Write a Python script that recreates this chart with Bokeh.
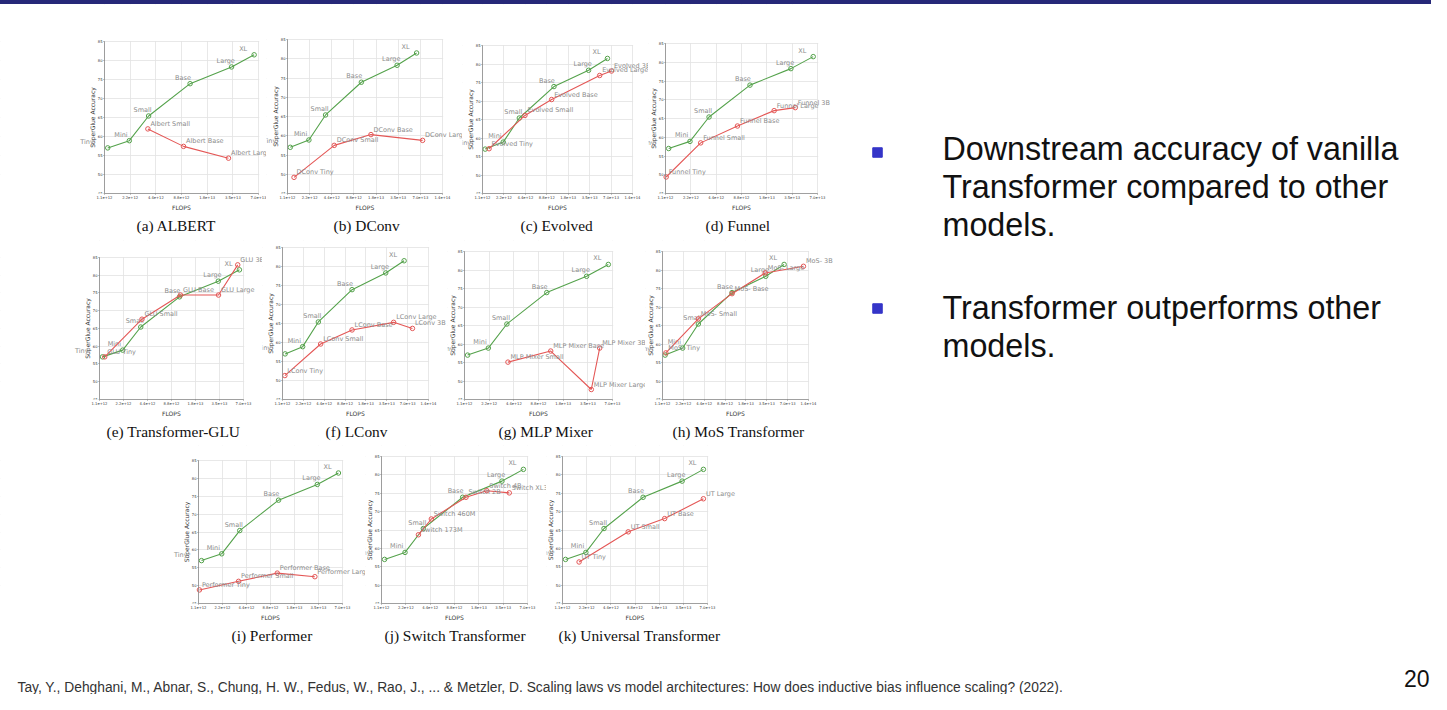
import math
from bokeh.plotting import figure
from bokeh.layouts import column, row
from bokeh.models import Range1d, FixedTicker, PrintfTickFormatter, Title, BoxAnnotation, Div
from bokeh.embed import file_html
from bokeh.resources import INLINE
from bokeh.core.properties import value

# ---------------- data ----------------
flops_ticks = [1.1e12, 2.2e12, 4.4e12, 8.8e12, 1.76e13, 3.52e13, 7.04e13, 1.408e14]
acc_ticks = [45, 50, 55, 60, 65, 70, 75, 80, 85]
x_title = "FLOPS"
y_title = "SuperGlue Accuracy"

vanilla_names = ["Tiny", "Mini", "Small", "Base", "Large", "XL"]
vanilla_flops = [1.2e12, 2.15e12, 3.62e12, 1.11e13, 3.40e13, 6.26e13]
vanilla_acc = [57.0, 58.9, 65.4, 73.9, 78.3, 81.5]

albert_names = ["Albert Small", "Albert Base", "Albert Large"]
albert_flops = [3.55e12, 9.3e12, 3.13e13]
albert_acc = [62.0, 57.4, 54.3]

dconv_names = ["DConv Tiny", "DConv Small", "DConv Base", "DConv Large"]
dconv_flops = [1.35e12, 4.75e12, 1.50e13, 7.55e13]
dconv_acc = [49.2, 57.5, 60.3, 58.8]

evolved_names = ["Evolved Tiny", "Evolved Small", "Evolved Base", "Evolved Large", "Evolved 3B"]
evolved_flops = [1.36e12, 4.34e12, 1.03e13, 4.87e13, 7.14e13]
evolved_acc = [57.1, 66.1, 70.4, 76.9, 78.1]

funnel_names = ["Funnel Tiny", "Funnel Small", "Funnel Base", "Funnel Large", "Funnel 3B"]
funnel_flops = [1.12e12, 2.88e12, 7.88e12, 2.15e13, 3.83e13]
funnel_acc = [49.4, 58.5, 63.0, 67.1, 67.9]

glu_names = ["GLU Tiny", "GLU Small", "GLU Base", "GLU Large", "GLU 3B"]
glu_flops = [1.28e12, 3.75e12, 1.14e13, 3.42e13, 5.96e13]
glu_acc = [57.0, 67.6, 74.4, 74.4, 82.9]

lconv_names = ["LConv Tiny", "LConv Small", "LConv Base", "LConv Large", "LConv 3B"]
lconv_flops = [1.19e12, 3.91e12, 1.11e13, 4.42e13, 8.26e13]
lconv_acc = [51.3, 59.6, 63.3, 65.3, 63.7]

mlp_names = ["MLP Mixer Small", "MLP Mixer Base", "MLP Mixer Large", "MLP Mixer 3B"]
mlp_flops = [3.73e12, 1.24e13, 3.88e13, 4.91e13]
mlp_acc = [55.1, 58.1, 47.7, 58.9]

mos_names = ["MoS- Tiny", "MoS- Small", "MoS- Base", "MoS- Large", "MoS- 3B"]
mos_flops = [1.23e12, 3.62e12, 1.11e13, 3.35e13, 1.19e14]
mos_acc = [57.6, 66.8, 73.6, 79.2, 81.0]

performer_names = ["Performer Tiny", "Performer Small", "Performer Base", "Performer Large"]
performer_flops = [1.13e12, 3.5e12, 1.07e13, 3.17e13]
performer_acc = [48.8, 51.2, 53.5, 52.5]

switch_names = ["Switch 173M", "Switch 460M", "Switch 2B", "Switch 4B", "Switch XL3"]
switch_flops = [3.15e12, 4.55e12, 1.22e13, 2.21e13, 4.19e13]
switch_acc = [63.7, 68.0, 73.9, 75.7, 75.1]

ut_names = ["UT Tiny", "UT Small", "UT Base", "UT Large"]
ut_flops = [1.77e12, 7.25e12, 2.06e13, 6.26e13]
ut_acc = [56.3, 64.5, 68.1, 73.5]

captions = ["(a) ALBERT", "(b) DConv", "(c) Evolved", "(d) Funnel",
            "(e) Transformer-GLU", "(f) LConv", "(g) MLP Mixer", "(h) MoS Transformer",
            "(i) Performer", "(j) Switch Transformer", "(k) Universal Transformer"]

bullet1_lines = ["Downstream accuracy of vanilla", "Transformer compared to other", "models."]
bullet2_lines = ["Transformer outperforms other", "models."]
citation = ("Tay, Y., Dehghani, M., Abnar, S., Chung, H. W., Fedus, W., Rao, J., ... & Metzler, D. "
            "Scaling laws vs model architectures: How does inductive bias influence scaling? (2022).")
page_number = "20"

# ---------------- style ----------------
GREEN = "#54a24b"
RED = "#e45756"
SANS = "DejaVu Sans"
SERIF = "Liberation Serif"
LABEL_GREY = "#8c8c8c"
LBL_SIZE = "6.5px"
AX_TITLE_SIZE = "6px"


def make_panel(caption, names, flops, acc, n_int, cell, frame, cap_left):
    cx0, cx1, cy0, cy1 = cell
    L, T, R, B = frame
    t0, tn = flops_ticks[0], flops_ticks[n_int]
    opx = (R - L) / n_int              # pixels per doubling
    ppu = (B - T) / (acc_ticks[-1] - acc_ticks[0])
    x_start = t0 * 2 ** (-(L - cx0) / opx)
    x_end = tn * 2 ** ((cx1 - R) / opx)
    y_end = acc_ticks[-1] + (T - cy0) / ppu

    p = figure(width=cx1 - cx0, height=cy1 - cy0, x_axis_type="log",
               x_range=Range1d(x_start, x_end), y_range=Range1d(acc_ticks[0], y_end),
               output_backend="svg", toolbar_location=None,
               min_border_left=0, min_border_top=0, min_border_right=0, min_border_bottom=cy1 - B)
    p.outline_line_color = None
    p.xaxis.ticker = FixedTicker(ticks=flops_ticks[:n_int + 1], minor_ticks=[])
    p.xaxis.formatter = PrintfTickFormatter(format="%.1e")
    p.xaxis.bounds = (t0, tn)
    p.yaxis.ticker = FixedTicker(ticks=acc_ticks, minor_ticks=[])
    p.yaxis.bounds = (acc_ticks[0], acc_ticks[-1])
    p.yaxis.fixed_location = t0
    p.axis.axis_line_color = "#888888"
    p.axis.axis_line_width = 0.8
    p.axis.major_tick_line_color = "#888888"
    p.axis.major_tick_out = 1
    p.axis.major_tick_in = 0
    p.axis.minor_tick_line_color = None
    p.axis.major_label_text_font = SANS
    p.axis.major_label_text_font_size = "3.7px"
    p.axis.major_label_text_color = "#333333"
    p.axis.major_label_standoff = 1
    p.grid.grid_line_color = "#e2e2e2"
    p.grid.grid_line_width = 0.8

    # white masks so the grid stays inside the plotted domain
    for box in (BoxAnnotation(right=t0 * 0.995), BoxAnnotation(left=tn * 1.02),
                BoxAnnotation(bottom=acc_ticks[-1] + 0.12)):
        box.fill_color = "white"
        box.fill_alpha = 1
        box.line_alpha = 0
        box.level = "underlay"
        p.add_layout(box)

    # y axis title, centred on the axis span, left of the tick labels
    p.text([t0], [(acc_ticks[0] + acc_ticks[-1]) / 2], text=[y_title], angle=math.pi / 2,
           x_offset=-12, text_align="center", text_baseline="middle", text_font=value(SANS),
           text_font_size=AX_TITLE_SIZE, text_color="#333333")

    # vanilla transformer
    p.line(vanilla_flops, vanilla_acc, line_color=GREEN, line_width=1.1)
    p.scatter(vanilla_flops, vanilla_acc, marker="circle", size=4.5, line_color=GREEN,
              fill_color=None, line_width=1)
    p.text(vanilla_flops[1:], vanilla_acc[1:], text=vanilla_names[1:], x_offset=-15, y_offset=-6,
           text_align="left", text_baseline="middle", text_font=value(SANS),
           text_font_size=LBL_SIZE, text_color=LABEL_GREY)
    p.text(vanilla_flops[:1], vanilla_acc[:1], text=vanilla_names[:1], x_offset=-14, y_offset=-6,
           text_align="right", text_baseline="middle", text_font=value(SANS),
           text_font_size=LBL_SIZE, text_color=LABEL_GREY)

    # compared architecture
    p.line(flops, acc, line_color=RED, line_width=1.1)
    p.scatter(flops, acc, marker="circle", size=4.5, line_color=RED, fill_color=None, line_width=1)
    p.text(flops, acc, text=names, x_offset=2.5, y_offset=-5,
           text_align="left", text_baseline="middle", text_font=value(SANS),
           text_font_size=LBL_SIZE, text_color=LABEL_GREY)

    # x axis title centred under the plotted span, then the sub-figure caption
    p.add_layout(Title(text=x_title, align="left", offset=(L + R) / 2 - cx0 - 9.5, text_font=SANS,
                       text_font_size=AX_TITLE_SIZE, text_font_style="normal", text_color="#333333",
                       standoff=1), "below")
    p.add_layout(Title(text=caption, align="left", offset=cap_left - cx0, text_font=SERIF,
                       text_font_size="15.4px", text_font_style="normal", text_color="#111111",
                       standoff=7), "below")
    return p


# row 1   (cell: x0, x1, y0, y1 ; frame: left, top, right, bottom ; caption left)
pa = make_panel(captions[0], albert_names, albert_flops, albert_acc, 6, (0, 266, 4, 240), (104, 41, 258, 193), 136)
pb = make_panel(captions[1], dconv_names, dconv_flops, dconv_acc, 7, (266, 462, 4, 240), (287, 39, 442, 193), 333)
pc = make_panel(captions[2], evolved_names, evolved_flops, evolved_acc, 7, (462, 648, 4, 240), (482, 45, 632, 193), 520)
pd = make_panel(captions[3], funnel_names, funnel_flops, funnel_acc, 6, (648, 845, 4, 240), (665, 43, 817, 193), 705)
# row 2
pe = make_panel(captions[4], glu_names, glu_flops, glu_acc, 6, (0, 262, 240, 445), (99, 257, 243, 400), 106)
pf = make_panel(captions[5], lconv_names, lconv_flops, lconv_acc, 7, (262, 447, 240, 445), (282, 247, 428, 400), 325)
pg = make_panel(captions[6], mlp_names, mlp_flops, mlp_acc, 6, (447, 645, 240, 445), (464, 251, 612, 399), 498)
ph = make_panel(captions[7], mos_names, mos_flops, mos_acc, 7, (645, 845, 240, 445), (662, 251, 808, 399), 672)
# row 3
pi = make_panel(captions[8], performer_names, performer_flops, performer_acc, 6, (0, 365, 445, 660), (198, 460, 342, 603), 231)
pj = make_panel(captions[9], switch_names, switch_flops, switch_acc, 6, (365, 546, 445, 660), (381, 456, 527, 603), 384)
pk = make_panel(captions[10], ut_names, ut_flops, ut_acc, 6, (546, 845, 445, 660), (562, 456, 707, 603), 558)

left_col = column(row(pa, pb, pc, pd), row(pe, pf, pg, ph), row(pi, pj, pk))

# top bar
bar = Div(text="", width=1431, height=4, margin=(0, 0, 0, 0),
          styles={"background-color": "#262878", "padding": "0px", "overflow": "hidden"})

# right text panel
rt = figure(width=586, height=656, x_range=Range1d(845, 1431), y_range=Range1d(660, 4),
            output_backend="svg", toolbar_location=None,
            x_axis_location=None, y_axis_location=None, min_border=0)
rt.outline_line_color = None
rt.grid.visible = False
rt.scatter([877, 877], [152, 308], marker="square", size=9.5, color="#3535c8")
rt.text([942] * 3, [148, 186, 224], text=bullet1_lines, text_align="left", text_baseline="middle",
        text_font=value("Liberation Sans"), text_font_size="32.3px", text_color="#111111")
rt.text([942] * 2, [307, 345], text=bullet2_lines, text_align="left", text_baseline="middle",
        text_font=value("Liberation Sans"), text_font_size="32.3px", text_color="#111111")

# citation / page number
ct = figure(width=1431, height=34, x_range=Range1d(0, 1431), y_range=Range1d(694, 660),
            output_backend="svg", toolbar_location=None,
            x_axis_location=None, y_axis_location=None, min_border=0)
ct.outline_line_color = None
ct.grid.visible = False
ct.text([17], [687], text=[citation], text_align="left", text_baseline="middle",
        text_font=value("Liberation Sans"), text_font_size="13.8px", text_color="#333333")
ct.text([1429], [678], text=[page_number], text_align="right", text_baseline="middle",
        text_font=value("Liberation Sans"), text_font_size="23px", text_color="#111111")

layout = column(bar, row(left_col, rt), ct)

open("out.html", "w").write(file_html(layout, INLINE))
